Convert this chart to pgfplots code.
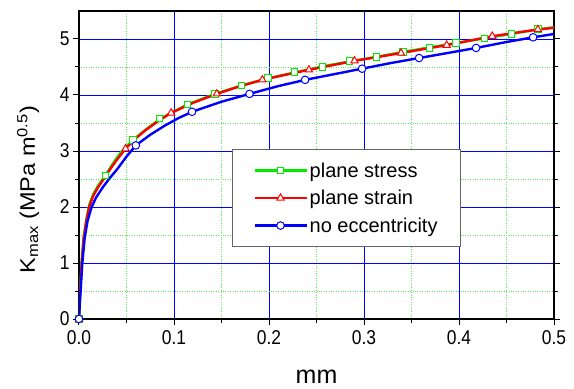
\documentclass[border=0pt]{standalone}
\usepackage{pgfplots}
\pgfplotsset{compat=1.18}
\usepackage{fontspec}
\setmainfont{Liberation Sans}
\newfontfamily\tickfont[FakeStretch=0.87]{Liberation Sans}
\newfontfamily\ylabfont[FakeStretch=1.12]{Liberation Sans}
\definecolor{cg}{RGB}{0,235,0}
\definecolor{cr}{RGB}{255,0,0}
\definecolor{cb}{RGB}{0,0,255}
\definecolor{gmin}{RGB}{90,235,90}
\begin{document}
\begin{tikzpicture}
\begin{axis}[
  scale only axis,
  width=475pt, height=308pt,
  xmin=0, xmax=0.5, ymin=0, ymax=5.5,
  xtick={0,0.1,0.2,0.3,0.4,0.5},
  xticklabels={0.0,0.1,0.2,0.3,0.4,0.5},
  ytick={0,1,2,3,4,5},
  minor xtick={0.05,0.15,0.25,0.35,0.45},
  minor ytick={0.5,1.5,2.5,3.5,4.5},
  grid=both,
  major grid style={cb, line width=0.8pt},
  minor grid style={gmin, dotted, line width=0.8pt},
  axis line style={black, line width=1.2pt},
  tick align=outside,
  xtick pos=left, ytick pos=both,
  major tick length=6pt, minor tick length=3.5pt,
  tick style={black, line width=1pt},
  /pgf/number format/assume math mode=true,
  ticklabel style={font=\tickfont\fontsize{20}{24}\selectfont},
  xticklabel style={yshift=-2pt},
  xlabel={mm},
  ylabel={K\textsubscript{max} (MPa m\textsuperscript{0.5})},
  xlabel style={font=\fontsize{25}{30}\selectfont, at={(axis description cs:0.5,-0.188)}, anchor=center},
  ylabel style={font=\ylabfont\fontsize{21}{25}\selectfont, at={(axis description cs:-0.107,0.42)}, anchor=center},
  legend style={at={(axis description cs:0.3215,0.552)}, anchor=north west,
    draw=black!60, line width=1.2pt, fill=white,
    font=\fontsize{20}{24}\selectfont, inner xsep=21pt, inner ysep=11pt,
    row sep=7.5pt},
  legend cell align=left,
  legend image code/.code={\draw[#1, mark repeat=2, mark phase=2] plot coordinates {(0pt,0pt) (26pt,0pt) (52pt,0pt)};},
]
% plane stress
\addplot[cg, line width=2.4pt, forget plot] coordinates {
(0,0) (0.0006,0.3) (0.0013,0.52) (0.0028,1.03) (0.005,1.48) (0.008,1.8)
(0.0108,2.04) (0.015,2.23) (0.02,2.38) (0.028,2.57) (0.035,2.76) (0.042,2.93)
(0.049,3.07) (0.057,3.20) (0.07,3.38) (0.085,3.57) (0.1,3.71) (0.114,3.83)
(0.143,4.02) (0.171,4.17) (0.199,4.30) (0.227,4.40) (0.256,4.51) (0.285,4.60)
(0.313,4.68) (0.341,4.77) (0.369,4.85) (0.397,4.93) (0.427,5.01) (0.455,5.09)
(0.483,5.17) (0.5,5.21)};
\addplot[only marks, mark=square*, mark size=3.2pt, mark options={draw=cg, fill=white, line width=1pt}, forget plot] coordinates {
(0,0) (0.028,2.56) (0.057,3.20) (0.085,3.58) (0.114,3.83) (0.143,4.02)
(0.171,4.17) (0.199,4.30) (0.227,4.41) (0.256,4.50) (0.285,4.61) (0.313,4.68)
(0.341,4.77) (0.369,4.84) (0.397,4.93) (0.427,5.01) (0.455,5.09) (0.483,5.18)};
% plane strain
\addplot[cr, line width=2.4pt, forget plot] coordinates {
(0,0) (0.0006,0.28) (0.0013,0.5) (0.0028,1.0) (0.005,1.45) (0.008,1.78)
(0.0108,2.01) (0.015,2.2) (0.02,2.35) (0.028,2.55) (0.035,2.73) (0.042,2.89)
(0.049,3.04) (0.06,3.23) (0.07,3.37) (0.083,3.53) (0.097,3.68) (0.12,3.86)
(0.145,4.02) (0.17,4.16) (0.193,4.27) (0.217,4.36) (0.242,4.45) (0.266,4.53)
(0.290,4.61) (0.315,4.68) (0.339,4.75) (0.363,4.82) (0.387,4.89) (0.411,4.97)
(0.435,5.05) (0.459,5.11) (0.483,5.17) (0.5,5.20)};
\addplot[only marks, mark=triangle*, mark size=4.2pt, mark options={draw=cr, fill=white, line width=1pt}, forget plot] coordinates {
(0,0) (0.049,3.04) (0.097,3.68) (0.145,4.02) (0.193,4.27) (0.242,4.45)
(0.290,4.61) (0.339,4.75) (0.387,4.89) (0.435,5.05) (0.483,5.17)};
% no eccentricity
\addplot[cb, line width=2.4pt, forget plot] coordinates {
(0,0) (0.0008,0.25) (0.0017,0.5) (0.0035,1.0) (0.006,1.45) (0.009,1.75)
(0.0133,2.0) (0.018,2.17) (0.025,2.35) (0.0325,2.52) (0.04,2.67)
(0.05,2.90) (0.0598,3.10) (0.075,3.29) (0.09,3.45) (0.105,3.59) (0.119,3.70)
(0.15,3.88) (0.1795,4.02) (0.21,4.16) (0.238,4.27) (0.268,4.37) (0.298,4.47)
(0.328,4.57) (0.358,4.66) (0.388,4.75) (0.418,4.84) (0.448,4.94) (0.478,5.03)
(0.5,5.09)};
\addplot[only marks, mark=*, mark size=3.8pt, mark options={draw=cb, fill=white, line width=1pt}, forget plot] coordinates {
(0,0) (0.0598,3.10) (0.119,3.70) (0.1795,4.02) (0.238,4.27) (0.298,4.47)
(0.358,4.66) (0.418,4.84) (0.478,5.03)};
\addlegendimage{cg, line width=2.4pt, mark=square*, mark size=3.2pt, mark options={draw=cg, fill=white, line width=1pt}}
\addlegendentry{plane stress}
\addlegendimage{cr, line width=2.4pt, mark=triangle*, mark size=4.2pt, mark options={draw=cr, fill=white, line width=1pt}}
\addlegendentry{plane strain}
\addlegendimage{cb, line width=2.4pt, mark=*, mark size=3.8pt, mark options={draw=cb, fill=white, line width=1pt}}
\addlegendentry{no eccentricity}
\end{axis}
\path ([shift={(-79pt,-69pt)}]current axis.south west) rectangle ([shift={(20pt,11pt)}]current axis.north east);
\end{tikzpicture}
\end{document}
